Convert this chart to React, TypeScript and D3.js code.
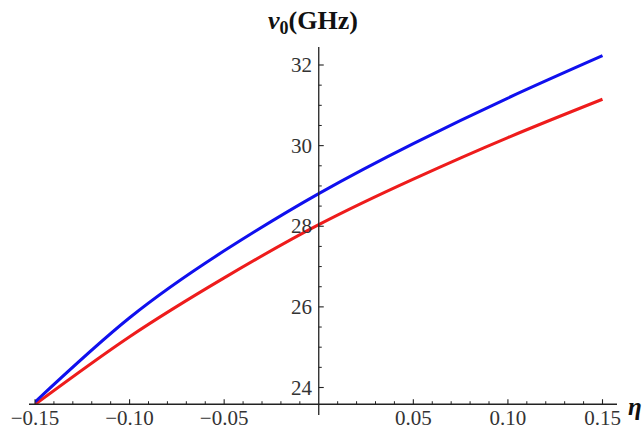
import React from "react";
import * as d3 from "d3";

const etaValues = [-0.15, -0.1, -0.05, 0, 0.05, 0.1, 0.15];
const blueSeries = [23.64, 25.73, 27.39, 28.81, 30.05, 31.18, 32.23];
const redSeries = [23.58, 25.26, 26.72, 28.04, 29.17, 30.2, 31.15];
const xTickLabels = ["-0.15", "-0.10", "-0.05", "0.05", "0.10", "0.15"];
const xTickValues = [-0.15, -0.1, -0.05, 0.05, 0.1, 0.15];
const yTickValues = [24, 26, 28, 30, 32];

const W = 642;
const H = 437;

export default function App() {
  const x = d3.scaleLinear().domain([-0.15, 0.15]).range([35, 602.5]);
  const y = d3.scaleLinear().domain([24, 32]).range([387.5, 65]);
  const axisY = y(23.585);
  const axisX = x(0);

  const minorX = d3.range(-15, 16).map((i) => i / 100).filter((v) => Math.abs(Math.round(v * 100) % 5) !== 0);
  const minorY = d3.range(47, 65).map((i) => i / 2).filter((v) => v % 2 !== 0 && y(v) > 47 && y(v) < axisY);

  const line = d3
    .line<number>()
    .x((_, i) => x(etaValues[i]))
    .y((d) => y(d))
    .curve(d3.curveNatural);

  const font = "Liberation Serif, Times New Roman, DejaVu Serif, serif";

  return (
    <svg width={W} height={H} style={{ position: "absolute", left: 0, top: 0, background: "#fff" }}>
      <rect width={W} height={H} fill="#fff" />
      <defs>
        <clipPath id="clip">
          <rect x={x(-0.15)} y={40} width={x(0.15) - x(-0.15) + 2} height={axisY - 40} />
        </clipPath>
      </defs>
      <g clipPath="url(#clip)">
        <path d={line(redSeries) || ""} fill="none" stroke="#ee1c1c" strokeWidth={3} />
        <path d={line(blueSeries) || ""} fill="none" stroke="#1010ee" strokeWidth={3} />
      </g>
      {/* x axis */}
      <line x1={29} x2={617} y1={axisY} y2={axisY} stroke="#222" strokeWidth={1.3} />
      {xTickValues.map((v) => (
        <line key={"xt" + v} x1={x(v)} x2={x(v)} y1={axisY} y2={axisY - 5} stroke="#222" strokeWidth={1.1} />
      ))}
      {minorX.map((v) => (
        <line key={"xm" + v} x1={x(v)} x2={x(v)} y1={axisY} y2={axisY - 3} stroke="#222" strokeWidth={1} />
      ))}
      {xTickValues.map((v, i) => (
        <text key={"xl" + v} x={x(v)} y={425} textAnchor="middle" fontFamily={font} fontSize={21} fill="#333">
          {xTickLabels[i].replace("-", "\u2212")}
        </text>
      ))}
      {/* y axis */}
      <line x1={axisX} x2={axisX} y1={47} y2={415} stroke="#222" strokeWidth={1.3} />
      {yTickValues.map((v) => (
        <line key={"yt" + v} x1={axisX} x2={axisX + 5} y1={y(v)} y2={y(v)} stroke="#222" strokeWidth={1.1} />
      ))}
      {minorY.map((v) => (
        <line key={"ym" + v} x1={axisX} x2={axisX + 3} y1={y(v)} y2={y(v)} stroke="#222" strokeWidth={1} />
      ))}
      {yTickValues.map((v) => (
        <text key={"yl" + v} x={312} y={y(v) + 7} textAnchor="end" fontFamily={font} fontSize={21} fill="#333">
          {v}
        </text>
      ))}
      {/* axis labels */}
      <text x={268} y={29} fontFamily={font} fontSize={26} fontWeight="bold" fill="#111">
        <tspan fontStyle="italic">ν</tspan>
        <tspan fontSize={18} dy={5}>0</tspan>
        <tspan dy={-5}>(GHz)</tspan>
      </text>
      <text x={628} y={415} fontFamily={font} fontSize={25} fontWeight="bold" fontStyle="italic" fill="#111">
        η
      </text>
    </svg>
  );
}
